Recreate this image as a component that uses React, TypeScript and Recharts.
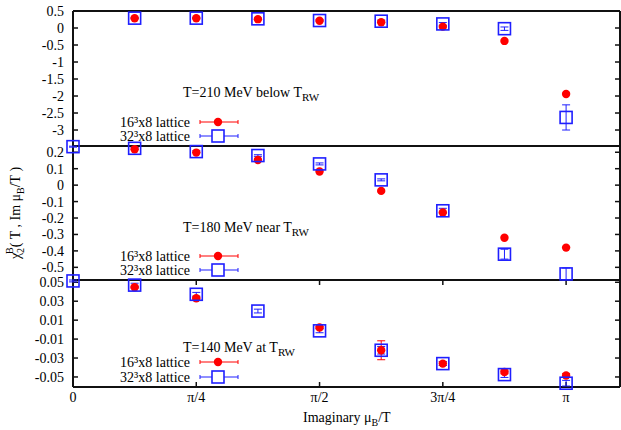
import React from 'react';
import { ScatterChart, Scatter, XAxis, YAxis, ErrorBar } from 'recharts';

const W = 621;
const H = 430;
const FONT = '"Liberation Serif", "Times New Roman", serif';
const PLOT_LEFT = 73;
const PLOT_RIGHT = 620;
const X_DOMAIN: [number, number] = [0, 3.485];

// imaginary mu_B/T, multiples of pi/8
const MU = [0, 0.3927, 0.7854, 1.1781, 1.5708, 1.9635, 2.3562, 2.7489, 3.1416];
const X_TICKS = [0, 0.7854, 1.5708, 2.3562, 3.1416];
const X_TICK_LABELS = ['0', 'π/4', 'π/2', '3π/4', 'π'];

// T = 210 MeV
const T210_16 = [null, 0.285, 0.285, 0.26, 0.215, 0.17, 0.04, -0.38, -1.94];
const T210_32 = [null, 0.29, 0.29, 0.27, 0.22, 0.2, 0.12, -0.02, -2.63];
const T210_32_ERR = [0, 0.02, 0.02, 0.02, 0.02, 0.03, 0.04, 0.05, 0.37];
const T210_TICKS = [0.5, 0, -0.5, -1, -1.5, -2, -2.5, -3];

// T = 180 MeV
const T180_16 = [null, 0.218, 0.198, 0.153, 0.083, -0.035, -0.166, -0.32, -0.38];
const T180_32 = [0.234, 0.224, 0.204, 0.18, 0.129, 0.032, -0.156, -0.42, -0.54];
const T180_32_ERR = [0.003, 0.005, 0.005, 0.005, 0.006, 0.006, 0.015, 0.03, 0.036];
const T180_TICKS = [0.2, 0.1, 0, -0.1, -0.2, -0.3, -0.4, -0.5];

// T = 140 MeV
const T140_16 = [null, 0.0448, 0.0331, null, 0.0023, -0.0218, -0.0359, -0.0447, -0.0485];
const T140_16_ERR = [0, 0.001, 0.001, 0, 0.001, 0.01, 0.002, 0.002, 0.002];
const T140_32 = [0.0514, 0.047, 0.0373, 0.0196, -0.0013, -0.0218, -0.0359, -0.0475, -0.0566];
const T140_32_ERR = [0.001, 0.002, 0.002, 0.002, 0.002, 0.004, 0.002, 0.003, 0.003];
const T140_TICKS = [0.05, 0.03, 0.01, -0.01, -0.03, -0.05];

const PANELS = [
  { domain: [-3.47, 0.5] as [number, number], ticks: T210_TICKS, top: 11, bottom: 146 },
  { domain: [-0.577, 0.238] as [number, number], ticks: T180_TICKS, top: 146, bottom: 280 },
  { domain: [-0.0606, 0.0524] as [number, number], ticks: T140_TICKS, top: 280, bottom: 387 },
];

const toPoints = (ys: (number | null)[], errs?: number[]) =>
  MU.map((x, i) => ({ x, y: ys[i], err: errs ? errs[i] : 0 })).filter(p => p.y !== null);

const RedDot = (p: any) => <circle cx={p.cx} cy={p.cy} r={4.2} fill="#ff0000" />;
const BlueBox = (p: any) => (
  <rect x={p.cx - 6} y={p.cy - 6} width={12} height={12} fill="none" stroke="#1f1fff" strokeWidth={1.6} />
);

interface PanelProps {
  red: any[];
  blue: any[];
  idx: number;
  showX?: boolean;
}

const Panel = ({ red, blue, idx, showX }: PanelProps) => {
  const { domain, ticks, top, bottom } = PANELS[idx];
  const xh = showX ? 30 : 0;
  return (
    <div style={{ position: 'absolute', left: 0, top: 0 }}>
      <ScatterChart width={W} height={H} margin={{ top, right: W - PLOT_RIGHT, left: 0, bottom: H - bottom - xh }}>
        <XAxis
          type="number"
          dataKey="x"
          domain={X_DOMAIN}
          ticks={X_TICKS}
          interval={0}
          height={xh}
          tickSize={-5}
          tickMargin={10}
          axisLine={false}
          tickLine={false}
          tickFormatter={(v: number) => (showX ? X_TICK_LABELS[X_TICKS.indexOf(v)] : '')}
          tick={{ fill: '#000', fontSize: 14 }}
        />
        <YAxis
          type="number"
          dataKey="y"
          domain={domain}
          ticks={ticks}
          interval={0}
          width={PLOT_LEFT}
          tickSize={-5}
          tickMargin={14}
          axisLine={false}
          tickLine={false}
          tick={{ fill: '#000', fontSize: 14 }}
        />
        <Scatter data={red} shape={RedDot} isAnimationActive={false}>
          <ErrorBar dataKey="err" direction="y" width={4} stroke="#ff0000" strokeWidth={1} />
        </Scatter>
        <Scatter data={blue} shape={BlueBox} isAnimationActive={false}>
          <ErrorBar dataKey="err" direction="y" width={4} stroke="#1f1fff" strokeWidth={1} />
        </Scatter>
      </ScatterChart>
    </div>
  );
};

// frame and inward tick marks, same linear mapping as the chart plot areas
const Frame = () => {
  const xPix = (v: number) => PLOT_LEFT + ((v - X_DOMAIN[0]) / (X_DOMAIN[1] - X_DOMAIN[0])) * (PLOT_RIGHT - PLOT_LEFT);
  const last = PANELS[PANELS.length - 1];
  const first = PANELS[0];
  return (
    <g stroke="#111" fill="none">
      <line x1={PLOT_LEFT} x2={PLOT_RIGHT} y1={first.top} y2={first.top} strokeWidth={2} />
      <line x1={PLOT_LEFT} x2={PLOT_RIGHT} y1={last.bottom} y2={last.bottom} strokeWidth={2} />
      <line x1={PLOT_LEFT} x2={PLOT_LEFT} y1={first.top} y2={last.bottom} strokeWidth={2} />
      <line x1={PLOT_RIGHT} x2={PLOT_RIGHT} y1={first.top} y2={last.bottom} strokeWidth={2} />
      {PANELS.slice(1).map(p => (
        <line key={p.top} x1={PLOT_LEFT} x2={PLOT_RIGHT} y1={p.top} y2={p.top} strokeWidth={2} />
      ))}
      {PANELS.map(p =>
        p.ticks.map(t => {
          const y = p.top + ((p.domain[1] - t) / (p.domain[1] - p.domain[0])) * (p.bottom - p.top);
          return (
            <g key={`${p.top}-${t}`} strokeWidth={1.5}>
              <line x1={PLOT_LEFT} x2={PLOT_LEFT + 5} y1={y} y2={y} />
              <line x1={PLOT_RIGHT - 5} x2={PLOT_RIGHT} y1={y} y2={y} />
            </g>
          );
        })
      )}
      {X_TICKS.map(t => (
        <g key={t} strokeWidth={1.5}>
          <line x1={xPix(t)} x2={xPix(t)} y1={last.bottom} y2={last.bottom - 5} />
          <line x1={xPix(t)} x2={xPix(t)} y1={last.top} y2={last.top + 5} />
        </g>
      ))}
    </g>
  );
};

const LegendBlock = ({ title, yTitle, yRed, yBlue }: { title: string; yTitle: number; yRed: number; yBlue: number }) => (
  <g fontFamily={FONT} fontSize={14} fill="#000">
    <text x={183} y={yTitle + 5}>
      {title}
      <tspan dy={4} fontSize={11}>RW</tspan>
    </text>
    <text x={190} y={yRed + 5} textAnchor="end">16³x8 lattice</text>
    <text x={190} y={yBlue + 5} textAnchor="end">32³x8 lattice</text>
    <line x1={200} x2={238} y1={yRed} y2={yRed} stroke="#ff0000" strokeWidth={1} />
    <line x1={200} x2={200} y1={yRed - 2} y2={yRed + 2} stroke="#ff0000" />
    <line x1={238} x2={238} y1={yRed - 2} y2={yRed + 2} stroke="#ff0000" />
    <circle cx={218} cy={yRed} r={4.2} fill="#ff0000" />
    <line x1={200} x2={238} y1={yBlue} y2={yBlue} stroke="#1f1fff" strokeWidth={1} />
    <line x1={200} x2={200} y1={yBlue - 2} y2={yBlue + 2} stroke="#1f1fff" />
    <line x1={238} x2={238} y1={yBlue - 2} y2={yBlue + 2} stroke="#1f1fff" />
    <rect x={212} y={yBlue - 6} width={12} height={12} fill="#fff" stroke="#1f1fff" strokeWidth={1.6} />
  </g>
);

export default function App() {
  return (
    <div style={{ position: 'absolute', left: 0, top: 0, width: W, height: H, background: '#fff', overflow: 'hidden', fontFamily: FONT }}>
      <svg width={W} height={H} style={{ position: 'absolute', left: 0, top: 0 }}>
        <Frame />
      </svg>
      <Panel red={toPoints(T210_16)} blue={toPoints(T210_32, T210_32_ERR)} idx={0} />
      <Panel red={toPoints(T180_16)} blue={toPoints(T180_32, T180_32_ERR)} idx={1} />
      <Panel red={toPoints(T140_16, T140_16_ERR)} blue={toPoints(T140_32, T140_32_ERR)} idx={2} showX />
      <svg width={W} height={H} style={{ position: 'absolute', left: 0, top: 0, pointerEvents: 'none' }}>
        <LegendBlock title="T=210 MeV below T" yTitle={92} yRed={122} yBlue={136} />
        <LegendBlock title="T=180 MeV near T" yTitle={227} yRed={256} yBlue={270} />
        <LegendBlock title="T=140 MeV at T" yTitle={347} yRed={362} yBlue={377} />
        <text x={303} y={422} fontFamily={FONT} fontSize={14} fill="#000">
          Imaginary μ<tspan dy={4} fontSize={10}>B</tspan>
          <tspan dy={-4}>/T</tspan>
        </text>
        <text transform="translate(20,213) rotate(-90)" textAnchor="middle" fontFamily={FONT} fontSize={14} fill="#000">
          χ<tspan dy={4} fontSize={10}>2</tspan>
          <tspan dx={-6} dy={-11} fontSize={10}>B</tspan>
          <tspan dy={7}>( T , Im μ</tspan>
          <tspan dy={4} fontSize={10}>B</tspan>
          <tspan dy={-4}>/T )</tspan>
        </text>
      </svg>
    </div>
  );
}
